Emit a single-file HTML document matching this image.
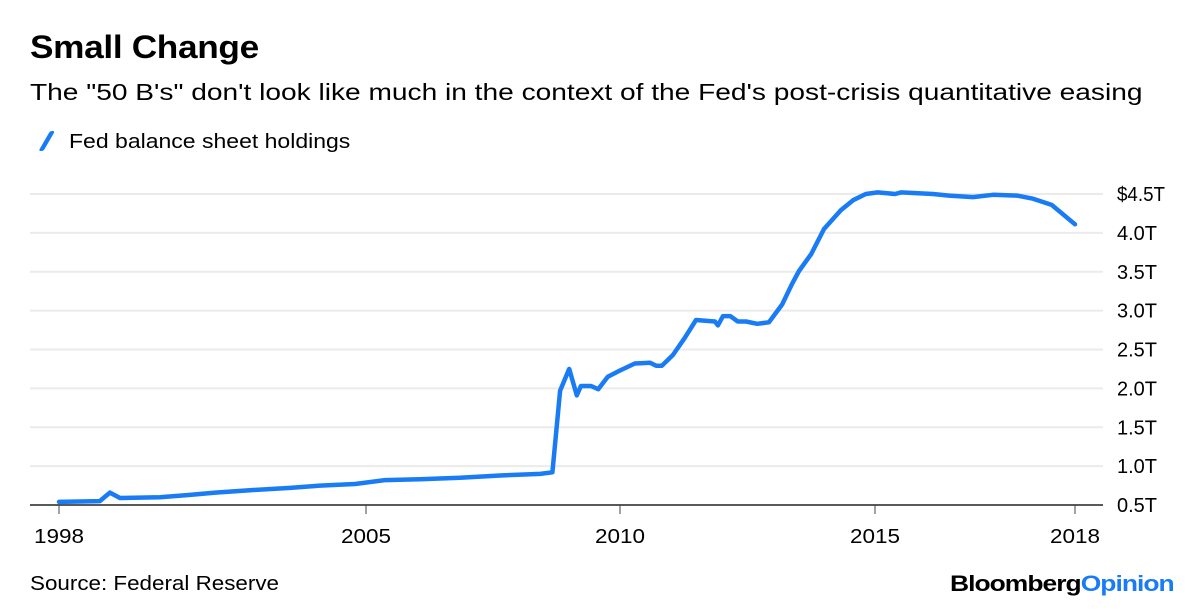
<!DOCTYPE html>
<html><head><meta charset="utf-8"><style>
body{margin:0;background:#fff;width:1200px;height:612px;overflow:hidden;font-family:"Liberation Sans",sans-serif;color:#000}
.t{position:absolute;white-space:nowrap;transform-origin:0 0}
</style></head><body>
<div class="t" style="left:30px;top:29px;font-size:32px;font-weight:bold;letter-spacing:-0.3px;transform:scaleX(1.1)">Small Change</div>
<div class="t" style="left:30px;top:79px;font-size:23px;transform:scaleX(1.222)">The "50 B's" don't look like much in the context of the Fed's post-crisis quantitative easing</div>
<div class="t" style="left:42px;top:128px;font-size:20px"><span style="display:inline-block;width:5px;height:20px;background:#1a7cf5;transform:skewX(-30deg) translate(4px,3px);margin-right:22px;border-radius:2px"></span><span style="display:inline-block;transform:scaleX(1.15);transform-origin:0 0">Fed balance sheet holdings</span></div>
<svg width="1200" height="612" style="position:absolute;left:0;top:0">
<g id="grid"></g><g id="xax"></g><g id="yax"></g><path id="line" fill="none" stroke="#1a7cf5" stroke-width="4.5" stroke-linejoin="round" stroke-linecap="round"/>
</svg>
<div class="t" style="left:30px;top:573px;font-size:20px;transform:scaleX(1.12)">Source: Federal Reserve</div>
<div class="t" style="left:950px;top:571px;font-size:22px;font-weight:bold;letter-spacing:-0.8px;transform:scaleX(1.2)">Bloomberg<span style="color:#1a7cf5">Opinion</span></div>
<script>
const years=[1998,1998.93,1999.16,1999.39,2000.3,2000.99,2001.56,2002.35,2003.27,2003.95,2004.75,2005.37,2006.06,2006.85,2007.64,2008.43,2008.67,2008.82,2009.0,2009.15,2009.23,2009.43,2009.57,2009.76,2010.0,2010.29,2010.59,2010.71,2010.82,2011.04,2011.27,2011.49,2011.86,2011.92,2012.02,2012.16,2012.31,2012.47,2012.69,2012.92,2013.18,2013.37,2013.51,2013.75,2014.0,2014.33,2014.57,2014.82,2015.04,2015.3,2015.39,2015.87,2016.11,2016.47,2016.77,2017.13,2017.37,2017.65,2018.0];
const values=[0.54,0.55,0.66,0.59,0.6,0.63,0.66,0.69,0.72,0.75,0.77,0.82,0.83,0.85,0.88,0.9,0.92,1.97,2.25,1.91,2.03,2.03,1.99,2.15,2.23,2.32,2.33,2.29,2.29,2.43,2.65,2.88,2.86,2.81,2.93,2.93,2.86,2.86,2.83,2.85,3.08,3.34,3.51,3.73,4.05,4.29,4.42,4.5,4.52,4.5,4.52,4.5,4.48,4.46,4.49,4.48,4.44,4.36,4.11];
const xTickYears=[1998,2005,2010,2015,2018];
const xTickPos=[59,366,620,875,1075];
const yTicks=[0.5,1,1.5,2,2.5,3,3.5,4,4.5];
const yTickLabels=["0.5T","1.0T","1.5T","2.0T","2.5T","3.0T","3.5T","4.0T","$4.5T"];
function X(yr){for(let i=0;i<xTickYears.length-1;i++){if(yr<=xTickYears[i+1]||i==xTickYears.length-2){const a=xTickYears[i],b=xTickYears[i+1];return xTickPos[i]+(yr-a)/(b-a)*(xTickPos[i+1]-xTickPos[i]);}}}
function Y(v){return 505-(v-0.5)/4*311;}
const ns="http://www.w3.org/2000/svg";
const grid=document.getElementById('grid'),yax=document.getElementById('yax'),xax=document.getElementById('xax');
yTicks.forEach((v,i)=>{
 const l=document.createElementNS(ns,'line');
 
 
 l.setAttribute('x1',30);l.setAttribute('x2',1103);l.setAttribute('y1',Y(v));l.setAttribute('y2',Y(v));
 l.setAttribute('stroke',i==0?'#222':'#ebebeb');l.setAttribute('stroke-width',i==0?1.5:2);
 grid.appendChild(l);
 const t=document.createElementNS(ns,'text');
 
 
 t.setAttribute('x',1117);t.setAttribute('y',Y(v)+7);t.setAttribute('font-size','20');t.setAttribute('textLength',i==8?48:40);t.setAttribute('lengthAdjust','spacingAndGlyphs');t.textContent=yTickLabels[i];
 yax.appendChild(t);
});
xTickYears.forEach((yr,i)=>{
 const x=X(yr);
 const l=document.createElementNS(ns,'line');
 
 
 l.setAttribute('x1',x);l.setAttribute('x2',x);l.setAttribute('y1',505);l.setAttribute('y2',514);l.setAttribute('stroke','#444');
 xax.appendChild(l);
 const t=document.createElementNS(ns,'text');
 
 
 t.setAttribute('x',x-25);t.setAttribute('y',543);t.setAttribute('font-size','20');t.setAttribute('textLength',50);t.setAttribute('lengthAdjust','spacingAndGlyphs');t.textContent=yr;
 xax.appendChild(t);
});
const p=document.getElementById('line');


p.setAttribute('d',years.map((yr,i)=>(i?'L':'M')+X(yr).toFixed(1)+','+Y(values[i]).toFixed(1)).join(''));
</script>
</body></html>
